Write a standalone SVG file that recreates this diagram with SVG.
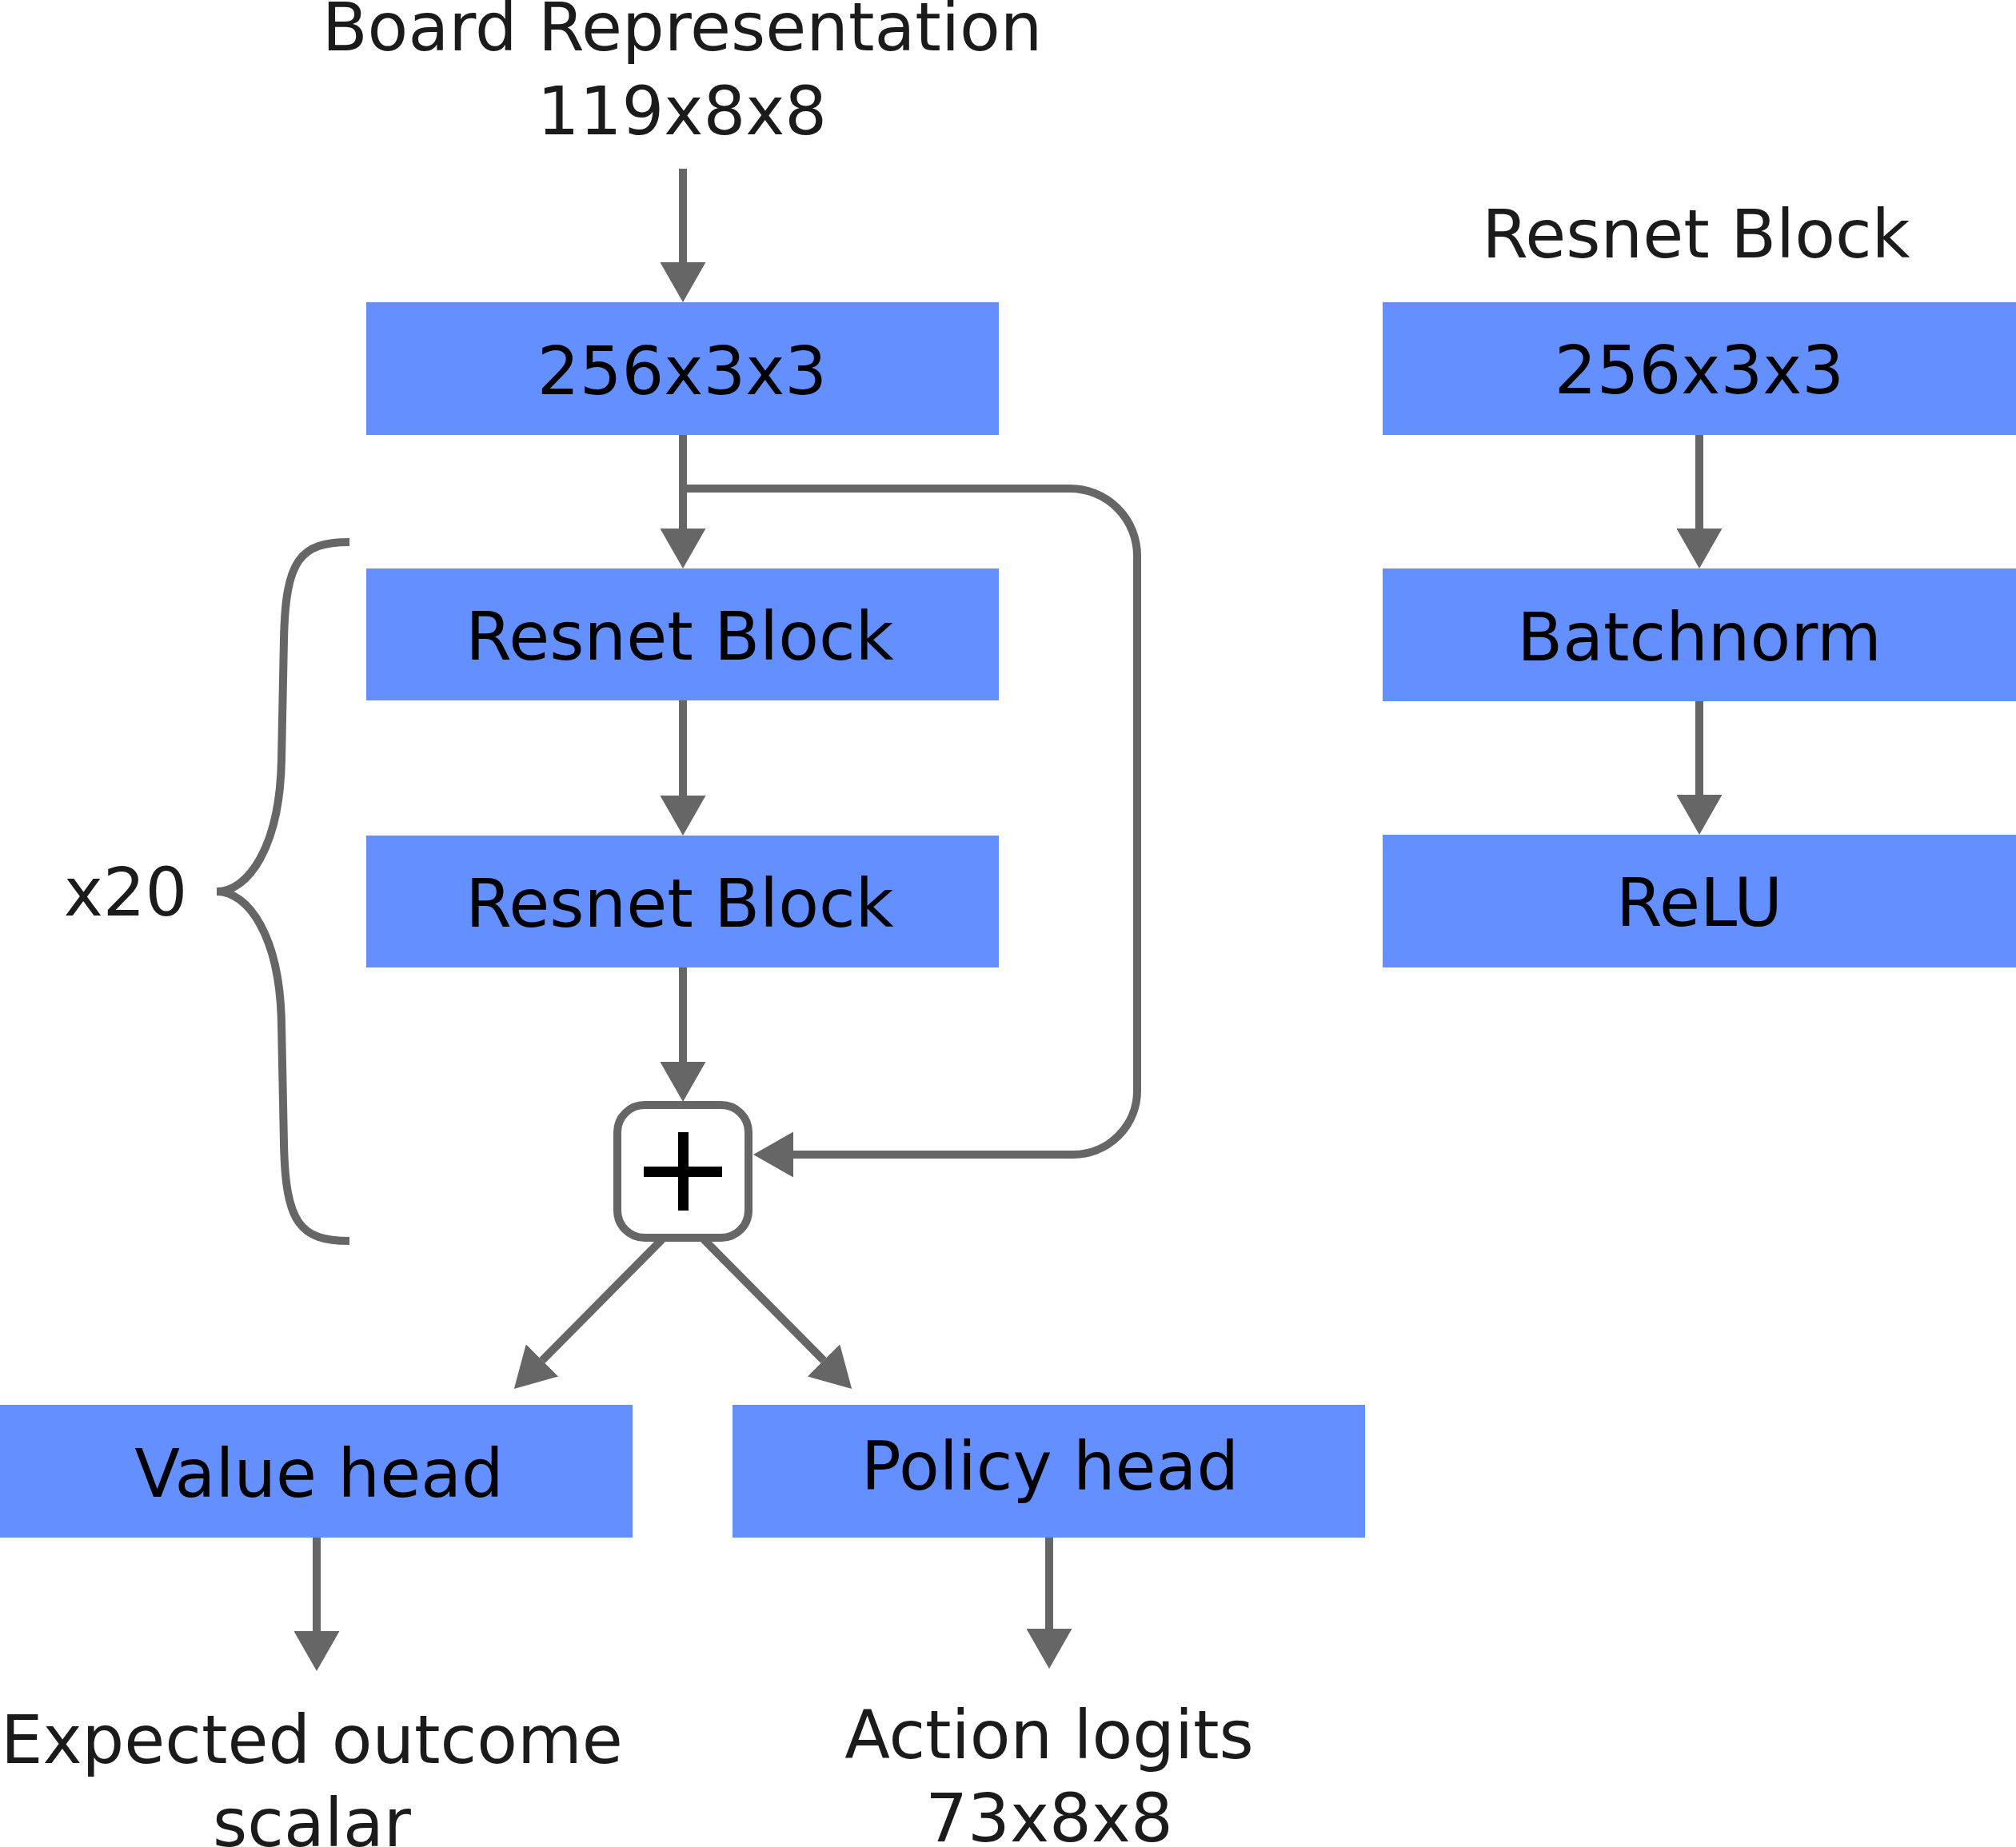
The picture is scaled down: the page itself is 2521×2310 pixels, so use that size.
<svg xmlns="http://www.w3.org/2000/svg" width="2521" height="2310" viewBox="0 0 2521 2310">
<style>
.box{fill:#648fff}
.t{font-family:"DejaVu Sans","Liberation Sans",sans-serif;font-size:83px;text-anchor:middle}
.in{fill:#000}
.out{fill:#1b1b1b}
.c{fill:none;stroke:#666;stroke-width:10}
</style>
<defs>
<marker id="ah" markerUnits="userSpaceOnUse" markerWidth="50" markerHeight="57" refX="0" refY="28.5" orient="auto" viewBox="0 0 50 57">
<path d="M0,0 L50,28.5 L0,57 Z" fill="#666"/>
</marker>
</defs>
<rect width="2521" height="2310" fill="#fff"/>

<g id="input-label">
<text class="t out" x="853" y="63">Board Representation</text>
<text class="t out" x="853" y="168">119x8x8</text>
</g>

<g id="conv">
<rect class="box" x="458" y="378" width="791" height="166"/>
<text class="t in" x="853" y="493">256x3x3</text>
</g>
<g id="resnet1">
<rect class="box" x="458" y="711" width="791" height="165"/>
<text class="t in" x="850" y="825">Resnet Block</text>
</g>
<g id="resnet2">
<rect class="box" x="458" y="1045" width="791" height="165"/>
<text class="t in" x="850" y="1159">Resnet Block</text>
</g>
<g id="add">
<rect x="772" y="1382" width="164" height="166" rx="34" fill="#fff" stroke="#666" stroke-width="10"/>
<rect x="848" y="1416" width="13" height="98" fill="#000"/>
<rect x="805" y="1459" width="98" height="13" fill="#000"/>
</g>
<g id="value-head">
<rect class="box" x="0" y="1757" width="791" height="166"/>
<text class="t in" x="399" y="1872">Value head</text>
</g>
<g id="policy-head">
<rect class="box" x="916" y="1757" width="791" height="166"/>
<text class="t in" x="1313" y="1863">Policy head</text>
</g>
<g id="value-out">
<text class="t out" x="390" y="2205">Expected outcome</text>
<text class="t out" x="390" y="2309">scalar</text>
</g>
<g id="policy-out">
<text class="t out" x="1312" y="2199">Action logits</text>
<text class="t out" x="1312" y="2303">73x8x8</text>
</g>
<g id="repeat">
<path class="c" d="M437 678 C375 678 357 700 355 800 L352 950 C350 1060 310 1115 271 1115 C310 1115 350 1170 352 1280 L355 1430 C357 1530 375 1552 437 1552"/>
<text class="t out" x="157" y="1145">x20</text>
</g>

<g id="detail-title">
<text class="t out" x="2121" y="322">Resnet Block</text>
</g>
<g id="detail-conv">
<rect class="box" x="1729" y="378" width="792" height="166"/>
<text class="t in" x="2125" y="492">256x3x3</text>
</g>
<g id="detail-bn">
<rect class="box" x="1729" y="711" width="792" height="166"/>
<text class="t in" x="2125" y="826">Batchnorm</text>
</g>
<g id="detail-relu">
<rect class="box" x="1729" y="1044" width="792" height="166"/>
<text class="t in" x="2125" y="1158">ReLU</text>
</g>

<g id="connectors">
<line class="c" x1="854" y1="211" x2="854" y2="328" marker-end="url(#ah)"/>
<line class="c" x1="854" y1="544" x2="854" y2="661" marker-end="url(#ah)"/>
<line class="c" x1="854" y1="876" x2="854" y2="995" marker-end="url(#ah)"/>
<line class="c" x1="854" y1="1210" x2="854" y2="1328" marker-end="url(#ah)"/>
<path class="c" d="M854 611 H1338 A84 84 0 0 1 1422 695 V1364 A80 80 0 0 1 1342 1444 H992" marker-end="url(#ah)"/>
<line class="c" x1="828" y1="1550" x2="678" y2="1701.5" marker-end="url(#ah)"/>
<line class="c" x1="880" y1="1550" x2="1030" y2="1701.5" marker-end="url(#ah)"/>
<line class="c" x1="396" y1="1923" x2="396" y2="2040" marker-end="url(#ah)"/>
<line class="c" x1="1312" y1="1923" x2="1312" y2="2037" marker-end="url(#ah)"/>
<line class="c" x1="2125" y1="544" x2="2125" y2="661" marker-end="url(#ah)"/>
<line class="c" x1="2125" y1="877" x2="2125" y2="994" marker-end="url(#ah)"/>
</g>
</svg>
